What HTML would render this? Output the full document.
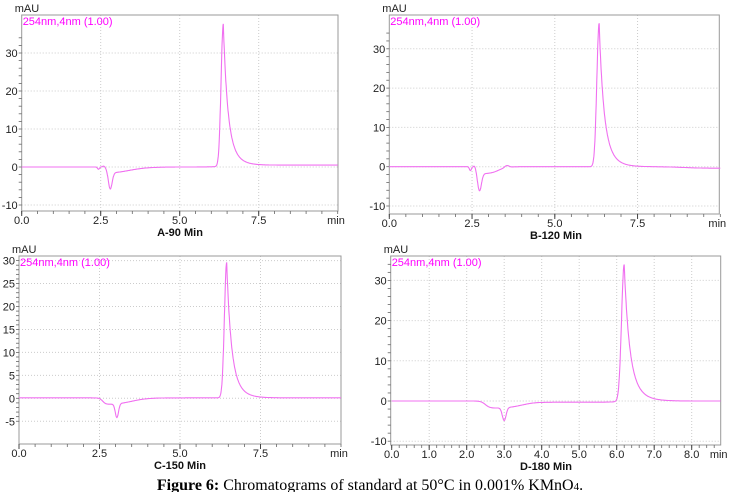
<!DOCTYPE html>
<html><head><meta charset="utf-8"><style>
body{margin:0;background:#fff;width:741px;height:492px;overflow:hidden}
svg text{font-family:"Liberation Sans",sans-serif}
</style></head><body>
<svg id="s" width="741" height="492" xmlns="http://www.w3.org/2000/svg">
<text x="370" y="490" text-anchor="middle" style="font-family:'Liberation Serif',serif;font-size:16px" fill="#000"><tspan font-weight="bold">Figure 6:</tspan> Chromatograms of standard at 50°C in 0.001% KMnO<tspan font-size="11">4</tspan>.</text>
</svg>
<script>
const s=document.getElementById('s');
function el(t,a,txt){const e=document.createElementNS('http://www.w3.org/2000/svg',t);for(const k in a)e.setAttribute(k,a[k]);if(txt!==undefined)e.textContent=txt;s.appendChild(e);return e;}
const sg=(t,c,w)=>1/(1+Math.exp(-(t-c)/w));
const G=(t,c,w)=>Math.exp(-Math.pow((t-c)/w,2)/2);
function panel(p){
 const X=t=>p.x0+(t)*p.px, Y=v=>p.y0-v*p.py;
 for(const t of p.xt){ if(t>0) el('line',{x1:X(t),x2:X(t),y1:p.top,y2:p.bot,stroke:'#ccc','stroke-dasharray':'1,2','stroke-width':1});}
 for(const v of p.yt){ el('line',{x1:p.left,x2:p.right,y1:Y(v),y2:Y(v),stroke:'#ccc','stroke-dasharray':'1,2','stroke-width':1});}
 el('rect',{x:p.left,y:p.top,width:p.right-p.left,height:p.bot-p.top,fill:'none',stroke:'#999','stroke-width':1});
 for(let t=0;t<=p.xmax+1e-6;t+=p.xminor){el('line',{x1:X(t),x2:X(t),y1:p.bot,y2:p.bot+3,stroke:'#666','stroke-width':0.8});}
 for(let v=p.ymin;v<=p.ymax;v+=p.yminor){const y=Y(v);if(y>=p.top&&y<=p.bot)el('line',{x1:p.left-3,x2:p.left,y1:y,y2:y,stroke:'#666','stroke-width':0.8});}
 for(const t of p.xt){el('line',{x1:X(t),x2:X(t),y1:p.bot,y2:p.bot+5,stroke:'#444'});
  el('text',{x:X(t),y:p.bot+13,'text-anchor':'middle','font-size':11,fill:'#222'},t.toFixed(1));}
 el('text',{x:p.right-2,y:p.bot+13,'text-anchor':'middle','font-size':11,fill:'#222'},'min');
 for(const v of p.yt){el('text',{x:p.left-4,y:Y(v)+4,'text-anchor':'end','font-size':11,fill:'#222'},String(v));}
 el('text',{x:p.left-7,y:p.top-3,'font-size':11,fill:'#222'},'mAU');
 el('text',{x:p.left+1,y:p.top+10,'font-size':11,fill:'#f0f'},'254nm,4nm (1.00)');
 el('text',{x:p.tx,y:p.bot+25,'text-anchor':'middle','font-size':11,'font-weight':'bold',fill:'#111'},p.title);
 let d='';
 for(let t=0;t<=p.xmax;t+=0.01){
  let v=p.base(t);
  const tp=p.tp,H=p.H,dt=t-tp;
  if(t<tp)v+=H*G(t,tp,0.07);
  else v+=H*(0.6*Math.exp(-dt/0.12)+0.4*Math.exp(-dt/0.25));
  d+=(d?'L':'M')+X(t).toFixed(1)+','+Y(v).toFixed(1);
 }
 el('path',{d:d,fill:'none',stroke:'#f070f0','stroke-width':1.1});
}
panel({left:21.7,right:338,top:15,bot:211,x0:21.7,px:31.6,y0:167,py:3.8,xmax:10,xt:[0,2.5,5,7.5],yt:[-10,0,10,20,30],ymin:-10,ymax:35,xminor:0.5,yminor:2,tx:180,title:'A-90 Min',
 tp:6.38,H:37.5,base:t=>-0.6*G(t,2.43,0.03)+0.3*G(t,2.6,0.04)-4.6*G(t,2.8,0.06)-1.8*sg(t,2.75,0.05)*(1-sg(t,3.4,0.3))+0.5*sg(t,6.6,0.3)});
panel({left:389.3,right:719.3,top:15,bot:214,x0:389.3,px:33.1,y0:166.7,py:3.93,xmax:10,xt:[0,2.5,5,7.5],yt:[-10,0,10,20,30],ymin:-10,ymax:35,xminor:0.5,yminor:2,tx:556,title:'B-120 Min',
 tp:6.34,H:36.5,base:t=>-1*G(t,2.45,0.03)+0.4*G(t,2.58,0.03)-5*G(t,2.72,0.06)-1.8*sg(t,2.7,0.04)*(1-sg(t,3.3,0.12))+0.5*G(t,3.55,0.06)-0.4*sg(t,8.9,0.3)});
panel({left:19,right:341,top:256,bot:444,x0:19,px:32.2,y0:398.3,py:4.59,xmax:10,xt:[0,2.5,5,7.5],yt:[-5,0,5,10,15,20,25,30],ymin:-5,ymax:30,xminor:0.5,yminor:1,tx:180,title:'C-150 Min',
 tp:6.45,H:29.5,base:t=>-1.5*sg(t,2.6,0.05)*(1-sg(t,3.5,0.25))-3*G(t,3.04,0.05)+0.1});
panel({left:390.7,right:720.7,top:256,bot:445,x0:391.7,px:37.5,y0:401,py:4.02,xmax:8.77,xt:[0,1,2,3,4,5,6,7,8],yt:[-10,0,10,20,30],ymin:-10,ymax:35,xminor:0.2,yminor:2,tx:546,title:'D-180 Min',
 tp:6.2,H:34,base:t=>-1.8*sg(t,2.5,0.06)*(1-sg(t,3.5,0.2))-3.2*G(t,3.0,0.05)-0.3*sg(t,3.8,0.2)*(1-sg(t,6.0,0.1))});
</script>
</body></html>
